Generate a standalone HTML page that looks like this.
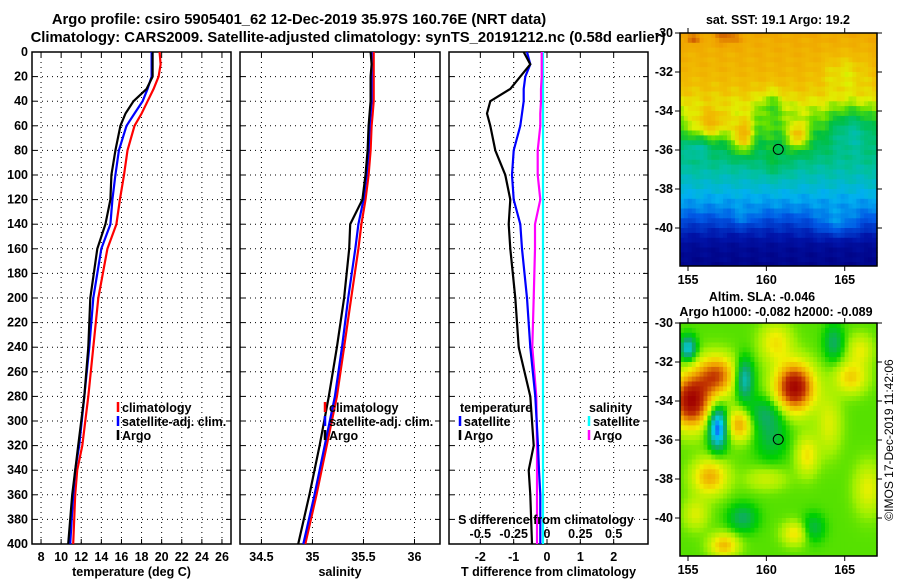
<!DOCTYPE html>
<html><head><meta charset="utf-8"><style>
body{margin:0;background:#fff;}
svg{display:block;font-family:"Liberation Sans",sans-serif;font-weight:bold;}
</style></head><body>
<svg id="c" width="900" height="580" viewBox="0 0 900 580">
<text x="299" y="24" font-size="14.8" text-anchor="middle">Argo profile: csiro 5905401_62 12-Dec-2019 35.97S 160.76E (NRT data)</text>
<text x="348" y="42" font-size="14.8" text-anchor="middle">Climatology: CARS2009. Satellite-adjusted climatology: synTS_20191212.nc (0.58d earlier)</text>
<text x="778" y="24" font-size="12.5" text-anchor="middle">sat. SST: 19.1 Argo: 19.2</text>
<text x="762" y="301" font-size="12.5" text-anchor="middle">Altim. SLA: -0.046</text>
<text x="776" y="316" font-size="12.5" text-anchor="middle">Argo h1000: -0.082 h2000: -0.089</text>
<text transform="translate(893,440) rotate(-90)" font-size="12" font-weight="normal" text-anchor="middle">©IMOS 17-Dec-2019 11:42:06</text>
</svg>
<script>
// ---- data ----
const depths = [0,10,20,30,40,50,60,80,100,120,140,160,200,240,280,320,340,360,400];
const tClim  = [19.8,19.9,19.7,19.2,18.6,18.0,17.3,16.6,16.25,15.85,15.5,14.6,13.7,13.2,12.7,12.1,11.6,11.4,11.2];
const tSat   = [19.0,19.0,19.0,18.6,18.1,17.3,16.5,15.75,15.4,15.1,14.9,14.0,13.2,12.8,12.3,11.8,11.4,11.2,10.9];
const tArgo  = [19.1,19.1,19.1,18.5,17.2,16.4,15.9,15.4,15.0,14.9,14.4,13.6,12.9,12.7,12.3,11.7,11.4,11.1,10.7];
const sClim  = [35.60,35.60,35.60,35.60,35.60,35.59,35.58,35.57,35.55,35.52,35.48,35.45,35.38,35.31,35.24,35.14,35.09,35.04,34.93];
const sSat   = [35.58,35.58,35.58,35.58,35.58,35.57,35.56,35.55,35.53,35.50,35.45,35.42,35.35,35.29,35.22,35.12,35.07,35.02,34.91];
const sArgo  = [35.57,35.58,35.57,35.57,35.57,35.56,35.55,35.54,35.52,35.49,35.37,35.36,35.31,35.24,35.16,35.07,35.02,34.97,34.86];
const dTArgo = [-0.7,-0.5,-0.8,-1.1,-1.7,-1.8,-1.7,-1.55,-1.25,-1.1,-1.15,-1.1,-0.95,-0.85,-0.5,-0.4,-0.55,-0.5,-0.45];
const dTSat  = [-0.6,-0.5,-0.65,-0.7,-0.7,-0.75,-0.8,-1.0,-1.05,-1.0,-0.8,-0.75,-0.6,-0.5,-0.35,-0.27,-0.24,-0.2,-0.2];
const dSArgo = [-0.04,-0.04,-0.04,-0.045,-0.045,-0.05,-0.05,-0.07,-0.07,-0.05,-0.09,-0.09,-0.1,-0.11,-0.08,-0.075,-0.075,-0.075,-0.075];
const dSSat  = [-0.03,-0.03,-0.03,-0.03,-0.03,-0.03,-0.03,-0.03,-0.03,-0.03,-0.03,-0.03,-0.03,-0.03,-0.03,-0.03,-0.03,-0.03,-0.03];
const depthTicks = [0,20,40,60,80,100,120,140,160,180,200,220,240,260,280,300,320,340,360,380,400];
const tTicks = [8,10,12,14,16,18,20,22,24,26];
const sTicks = [34.5,35,35.5,36];
const sTickLabels = ['34.5','35','35.5','36'];
const dtTicks = [-2,-1,0,1,2];
const dsTickLabels = ['-0.5','-0.25','0','0.25','0.5'];
const dsTicks = [-0.5,-0.25,0,0.25,0.5];
// map fields: latitude profile + blobs [lon, lat, rlon, rlat, amplitude]
const sstLatKnots = [-30,-31,-32,-33,-34,-35,-36,-37,-38,-39,-40,-41,-42];
const sstLatBase  = [0.82,0.8,0.78,0.74,0.66,0.6,0.53,0.45,0.38,0.3,0.17,0.06,0.03];
const sstBlobs = [[158.5,-35.3,0.6,0.9,0.2],[162,-35.3,0.6,0.7,0.18],[156.5,-34.6,1.2,0.8,0.15],[160.3,-33.6,0.8,0.8,-0.08],[165,-32,1.5,1,-0.08],[165.5,-35,1.6,1.2,-0.14],[155.5,-35.9,1,0.5,-0.1],[157.5,-30.2,0.8,0.4,0.1],[155.3,-30.3,0.4,0.3,0.12],[160.5,-36.8,0.9,0.7,0.06],[164.5,-39.8,1.4,0.7,0.1],[158.5,-39.5,0.8,0.5,0.06]];
const slaBlobs = [[155.2,-34,1.2,1.3,0.8],[156.8,-32.7,1.2,1.0,0.55],[161.8,-33.3,1.2,1.2,0.8],[156.9,-35.4,0.55,1.0,-0.75],[158.6,-32.9,0.55,1.0,-0.45],[155,-31.3,0.5,0.6,-0.5],[158.3,-35.2,0.8,0.8,0.4],[159.8,-34.6,1.2,0.8,-0.2],[156.4,-37.9,1.1,0.9,0.38],[165.4,-32.8,1.0,0.8,0.3],[157.3,-41.4,0.9,0.6,0.35],[161.8,-40.8,0.8,0.6,0.25],[166.5,-38.5,0.9,1.3,0.2],[160,-38,1.3,0.6,0.15],[164.3,-31,0.6,0.9,-0.25],[162.6,-36.8,0.7,1.0,0.25],[158.5,-40,0.9,0.7,-0.25],[160.6,-31,1.0,1.0,0.25],[164,-35.2,0.8,1.5,0.18],[166,-31.4,0.8,0.8,0.2],[160.3,-35.8,1.0,1.2,-0.2],[163,-40.5,0.7,0.7,-0.2],[155.5,-39.8,0.8,0.8,0.18]];
const slaBase = 0.08;
const argoPos = [160.76,-35.97];
</script>
<script>
const svg=document.getElementById('c');const NS='http://www.w3.org/2000/svg';
function mk(t,a,p){const e=document.createElementNS(NS,t);for(const k in a)e.setAttribute(k,a[k]);(p||svg).appendChild(e);return e;}
const Y0=52,Y1=544;
const yD=d=>Y0+(d/400)*(Y1-Y0);
function panel(name,x0,x1,vmin,vmax,ticks,labels,xlabel){
  const g=mk('g',{});
  
  
  const sx=v=>x0+(v-vmin)/(vmax-vmin)*(x1-x0);
  ticks.forEach((t,i)=>{const x=sx(t);
    mk('line',{x1:x,x2:x,y1:Y0,y2:Y1,stroke:'#000','stroke-dasharray':'1 4'},g);
    mk('line',{x1:x,x2:x,y1:Y1,y2:Y1-5,stroke:'#000'},g);
    mk('line',{x1:x,x2:x,y1:Y0,y2:Y0+5,stroke:'#000'},g);
    const tx=mk('text',{x:x,y:Y1+17,'font-size':12.5,'text-anchor':'middle'},g);tx.textContent=labels[i];
    
    });
  depthTicks.forEach(d=>{const y=yD(d);
    mk('line',{x1:x0,x2:x1,y1:y,y2:y,stroke:'#000','stroke-dasharray':'1 4'},g);
    mk('line',{x1:x0,x2:x0+5,y1:y,y2:y,stroke:'#000'},g);
    mk('line',{x1:x1,x2:x1-5,y1:y,y2:y,stroke:'#000'},g);});
  mk('rect',{x:x0,y:Y0,width:x1-x0,height:Y1-Y0,fill:'none',stroke:'#000','stroke-width':1.5},g);
  if(xlabel){const t=mk('text',{x:(x0+x1)/2,y:Y1+32,'font-size':12.5,'text-anchor':'middle'},g);t.textContent=xlabel;
    
    }
  return sx;
}
function line(vals,sx,col,name){
  const pts=vals.map((v,i)=>sx(v).toFixed(1)+','+yD(depths[i]).toFixed(1)).join(' ');
  const p=mk('polyline',{points:pts,fill:'none',stroke:col,'stroke-width':2.2});
  
  
}
function legend(x,y,items){items.forEach((it,i)=>{const yy=y+i*14;
  if(it[1])mk('line',{x1:x,x2:x,y1:yy-10,y2:yy,stroke:it[1],'stroke-width':2.5});
  const t=mk('text',{x:x+(it[1]?4:0),y:yy,'font-size':12.5},svg);t.textContent=it[0];
  
  });}
depthTicks.forEach(d=>{const t=mk('text',{x:28,y:yD(d)+4,'font-size':12.5,'text-anchor':'end'});t.textContent=d;
  
  });
const sxT=panel('temperature-panel',32,231,7.1,26.9,tTicks,tTicks.map(String),'temperature (deg C)');
line(tClim,sxT,'#f00','temp-climatology-line');line(tSat,sxT,'#00f','temp-satellite-line');line(tArgo,sxT,'#000','temp-argo-line');
legend(118,412,[['climatology','#f00'],['satellite-adj. clim.','#00f'],['Argo','#000']]);
const sxS=panel('salinity-panel',240,440,34.29,36.25,sTicks,sTickLabels,'salinity');
line(sClim,sxS,'#f00','sal-climatology-line');line(sSat,sxS,'#00f','sal-satellite-line');line(sArgo,sxS,'#000','sal-argo-line');
legend(325,412,[['climatology','#f00'],['satellite-adj. clim.','#00f'],['Argo','#000']]);
const sxD=panel('difference-panel',449,648,-2.94,3.03,dtTicks,dtTicks.map(String),'T difference from climatology');
const sxDS=v=>sxD(v*4);
line(dSSat,sxDS,'#0ff','sal-diff-satellite-line');line(dSArgo,sxDS,'#f0f','sal-diff-argo-line');
line(dTSat,sxD,'#00f','temp-diff-satellite-line');line(dTArgo,sxD,'#000','temp-diff-argo-line');
legend(460,412,[['temperature',null],['satellite','#00f'],['Argo','#000']]);
legend(589,412,[['  salinity',null],['satellite','#0ff'],['Argo','#f0f']]);
{const t=mk('text',{x:546,y:524,'font-size':12.5,'text-anchor':'middle'});t.textContent='S difference from climatology';

dsTicks.forEach((v,i)=>{const tt=mk('text',{x:sxDS(v),y:538,'font-size':12.5,'text-anchor':'middle'});tt.textContent=dsTickLabels[i];
});}
// ---- maps ----
function cmap(stops,v){if(v<=stops[0][0])return 'rgb('+stops[0][1].join(',')+')';for(let i=1;i<stops.length;i++){if(v<=stops[i][0]){const a=stops[i-1],b=stops[i],f=(v-a[0])/(b[0]-a[0]);return 'rgb('+[0,1,2].map(k=>Math.round(a[1][k]+(b[1][k]-a[1][k])*f)).join(',')+')';}}return 'rgb('+stops[stops.length-1][1].join(',')+')';}
const sstStops=[[0,[0,0,128]],[0.12,[0,20,170]],[0.25,[0,90,230]],[0.35,[0,176,240]],[0.45,[0,192,160]],[0.55,[0,192,64]],[0.62,[96,224,0]],[0.68,[224,240,0]],[0.75,[240,192,0]],[0.85,[240,160,0]],[0.97,[190,60,0]]];
const slaStops=[[-0.7,[16,64,255]],[-0.45,[0,208,240]],[-0.2,[16,168,112]],[0,[0,208,0]],[0.15,[160,240,0]],[0.3,[240,240,0]],[0.5,[240,160,0]],[0.7,[192,48,0]],[0.9,[160,0,0]]];
function base(lat){for(let i=1;i<sstLatKnots.length;i++){if(lat>=sstLatKnots[i]){const f=(lat-sstLatKnots[i-1])/(sstLatKnots[i]-sstLatKnots[i-1]);return sstLatBase[i-1]+(sstLatBase[i]-sstLatBase[i-1])*f;}}return sstLatBase[sstLatBase.length-1];}
function bl(B,lon,lat){let s=0;B.forEach(b=>{const dx=(lon-b[0])/b[2],dy=(lat-b[1])/b[3];s+=b[4]*Math.exp(-(dx*dx+dy*dy));});return s;}
function texture(lo,la){return 0.025*Math.sin(lo*23.7+la*5.1)*Math.cos(la*19.3-lo*3.7);}
function map(name,top,field,stops){
  const x0=680,x1=877,lon0=154.49,lon1=167.06,lat0=-30,pxLat=19.5;
  const X=lo=>x0+(lo-lon0)/(lon1-lon0)*(x1-x0),Y=la=>top+(lat0-la)*pxLat;
  const g=mk('g',{});
  const step=0.25,bottom=top+233;
  for(let la=-30;Y(la)<bottom;la-=step)for(let lo=lon0;lo<lon1;lo+=step){
    const v=field(lo+step/2,la-step/2);
    const h=Math.min(step*pxLat+0.6,bottom-Y(la));
    mk('rect',{x:X(lo).toFixed(1),y:Y(la).toFixed(1),width:(Math.min(X(lo+step),x1)-X(lo)+0.6).toFixed(1),height:h.toFixed(1),fill:cmap(stops,v)},g);}
  mk('rect',{x:x0,y:top,width:x1-x0,height:233,fill:'none',stroke:'#000','stroke-width':1.5},g);
  [155,160,165].forEach(lo=>{mk('line',{x1:X(lo),x2:X(lo),y1:bottom,y2:bottom+5,stroke:'#000'},g);mk('line',{x1:X(lo),x2:X(lo),y1:top,y2:top-5,stroke:'#000'},g);
    const t=mk('text',{x:X(lo),y:bottom+18,'font-size':12.5,'text-anchor':'middle'},g);t.textContent=lo;
    });
  [-30,-32,-34,-36,-38,-40].forEach(la=>{mk('line',{x1:x0-5,x2:x0,y1:Y(la),y2:Y(la),stroke:'#000'},g);mk('line',{x1:x1,x2:x1+5,y1:Y(la),y2:Y(la),stroke:'#000'},g);
    const t=mk('text',{x:x0-7,y:Y(la)+4,'font-size':12.5,'text-anchor':'end'},g);t.textContent=la;
    });
  const c=mk('circle',{cx:X(argoPos[0]),cy:Y(argoPos[1]),r:5,fill:'none',stroke:'#000'},g);
  
}
map('sst-map',33,(lo,la)=>base(la)+bl(sstBlobs,lo,la)+texture(lo,la),sstStops);
map('sla-map',323,(lo,la)=>slaBase+bl(slaBlobs,lo,la),slaStops);
</script>
</body></html>
